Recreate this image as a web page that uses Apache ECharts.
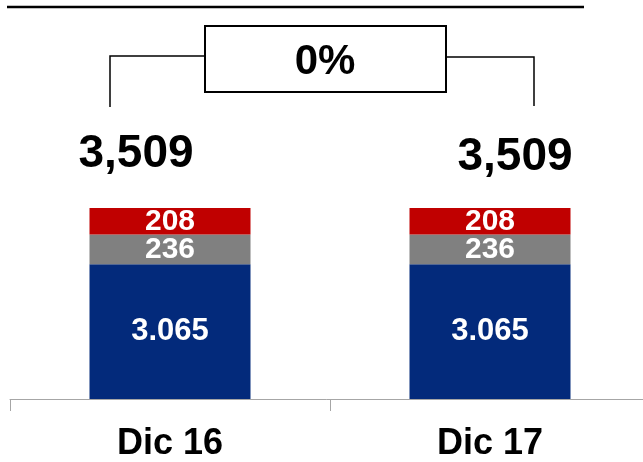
<!DOCTYPE html>
<html>
<head>
<meta charset="utf-8">
<script src="https://cdn.jsdelivr.net/npm/echarts@6/dist/echarts.min.js"></script>
<style>
  html, body { margin: 0; padding: 0; background: #fff; }
  #chart { width: 643px; height: 462px; }
</style>
</head>
<body>
<div id="chart"></div>
<script>
// datos
var categories = ["Dic 16", "Dic 17"];
var baseValues = [3065, 3065];
var greyValues = [236, 236];
var redValues = [208, 208];
var totals = [3509, 3509];
var changeLabel = "0%";

var font = "Liberation Sans, Arial, sans-serif";

function thousands(v, sep) {
  return String(v).replace(/\B(?=(\d{3})+(?!\d))/g, sep);
}

var chart = echarts.init(document.getElementById("chart"));

var segLabel = {
  show: true,
  position: "inside",
  color: "#fff",
  fontFamily: font,
  fontWeight: "bold",
  fontSize: 30
};

chart.setOption({
  animation: false,
  grid: { left: 10, width: 640, top: 146, bottom: 63, outerBoundsMode: "none" },
  xAxis: {
    type: "category",
    data: categories,
    axisLine: { lineStyle: { color: "#a6a6a6", width: 1 } },
    axisTick: { show: true, length: 12, lineStyle: { color: "#a6a6a6" } },
    axisLabel: {
      margin: 27,
      color: "#000",
      fontFamily: font,
      fontWeight: "bold",
      fontSize: 36
    }
  },
  yAxis: {
    type: "value",
    min: 2000,
    max: 4000,
    show: false,
    splitLine: { show: false }
  },
  series: [
    {
      name: "base",
      type: "bar",
      stack: "t",
      barWidth: 161,
      data: baseValues,
      itemStyle: { color: "#032a7b" },
      label: Object.assign({}, segLabel, {
        fontSize: 31,
        formatter: function (p) { return thousands(p.value, "."); }
      })
    },
    {
      name: "grey",
      type: "bar",
      stack: "t",
      data: greyValues,
      itemStyle: { color: "#808080" },
      label: segLabel
    },
    {
      name: "red",
      type: "bar",
      stack: "t",
      data: redValues,
      itemStyle: { color: "#c00000" },
      label: segLabel
    },
    {
      name: "total",
      type: "bar",
      stack: "t",
      data: totals.map(function (t, i) {
        return {
          value: 0,
          label: { offset: i === 0 ? [-34, -54] : [25, -51] }
        };
      }),
      itemStyle: { color: "transparent" },
      label: {
        show: true,
        position: "inside",
        color: "#000",
        fontFamily: font,
        fontWeight: "bold",
        fontSize: 46,
        formatter: function (p) { return thousands(totals[p.dataIndex], ","); }
      }
    }
  ],
  graphic: [
    { type: "line", shape: { x1: 7, y1: 7, x2: 584, y2: 7 }, style: { stroke: "#000", lineWidth: 2.5 } },
    { type: "polyline", shape: { points: [[110, 107], [110, 56], [205, 56]] }, style: { stroke: "#000", lineWidth: 1.5, fill: null } },
    { type: "polyline", shape: { points: [[446, 57], [534, 57], [534, 106]] }, style: { stroke: "#000", lineWidth: 1.5, fill: null } },
    { type: "rect", shape: { x: 205, y: 26, width: 241, height: 66 }, style: { stroke: "#000", lineWidth: 2, fill: "#fff" } },
    {
      type: "text",
      x: 325, y: 62,
      style: {
        text: changeLabel,
        fill: "#000",
        font: "bold 42px Liberation Sans, Arial, sans-serif",
        align: "center",
        verticalAlign: "middle"
      }
    }
  ]
});

window.onresize = function () { chart.resize(); };
</script>
</body>
</html>
